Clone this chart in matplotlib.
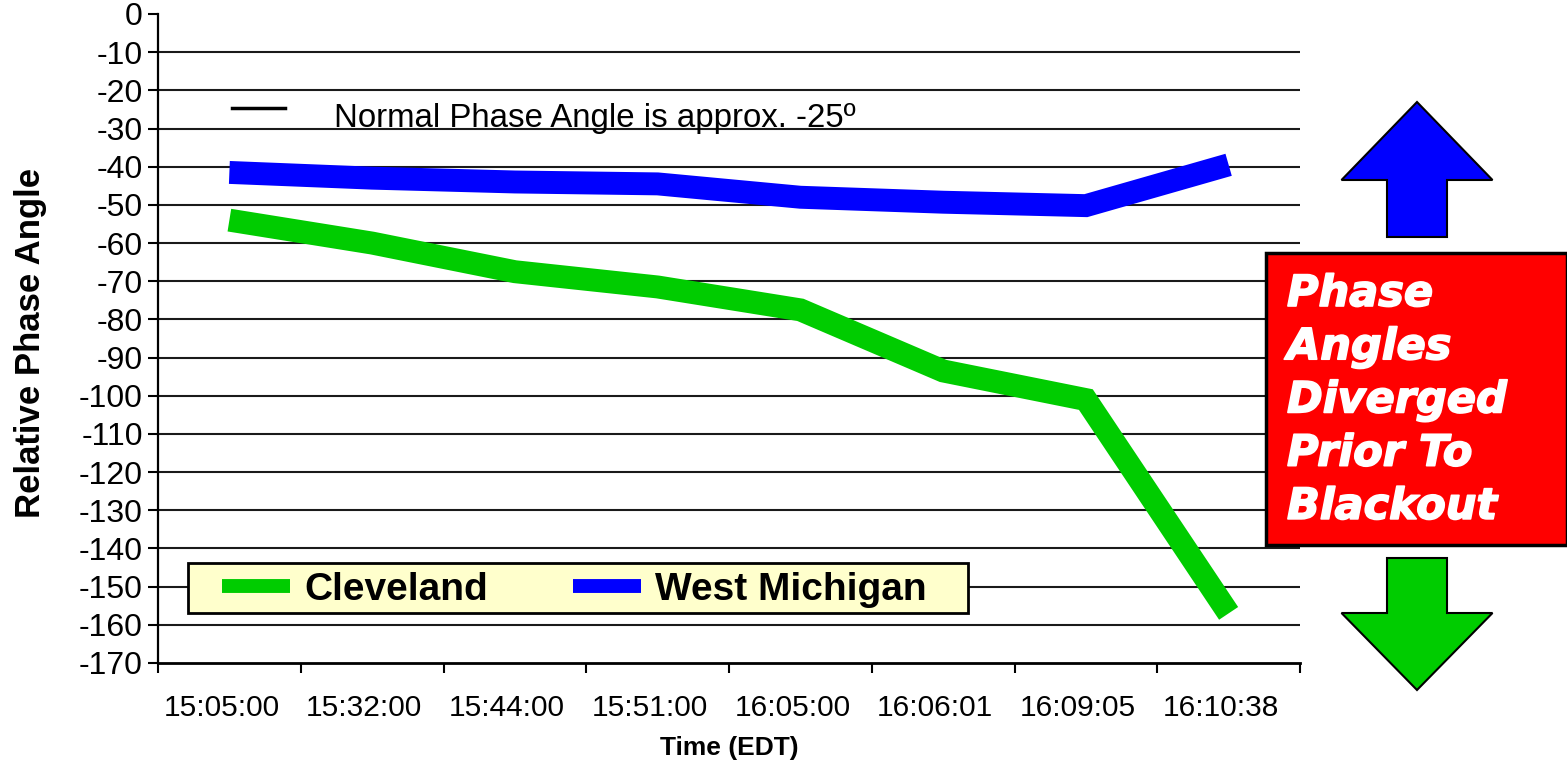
import matplotlib
matplotlib.use("Agg")
import numpy as np
import matplotlib.pyplot as plt
import matplotlib.transforms as mtransforms
import matplotlib.patheffects as pe
from matplotlib.lines import Line2D
from matplotlib.patches import Rectangle, FancyArrow
from matplotlib.legend_handler import HandlerLine2D

plt.rcParams['font.family'] = ['Liberation Sans', 'DejaVu Sans']
plt.rcParams['axes.unicode_minus'] = False

# ---- data ----
times = ["15:05:00", "15:32:00", "15:44:00", "15:51:00",
         "16:05:00", "16:06:01", "16:09:05", "16:10:38"]
cleveland = [-54, -60, -67.5, -71.5, -77.5, -93.5, -101, -157]
west_michigan = [-41.5, -43, -44, -44.5, -48, -49.3, -50.2, -39.5]
yticks = list(range(0, -171, -10))
series_names = ["Cleveland", "West Michigan"]
series_colors = ["#00CC00", "#0000FF"]
note_text = "Normal Phase Angle is approx. -25º"
box_text = ["Phase", "Angles", "Diverged", "Prior To", "Blackout"]


class ShiftedLineHandler(HandlerLine2D):
    def __init__(self, shift, **kw):
        super().__init__(**kw)
        self.shift = shift

    def create_artists(self, legend, orig_handle, xdescent, ydescent,
                       width, height, fontsize, trans):
        arts = super().create_artists(legend, orig_handle, xdescent, ydescent,
                                      width, height, fontsize, trans)
        for a in arts:
            a.set_ydata(np.asarray(a.get_ydata(), dtype=float) + self.shift)
        return arts


W, H = 1567, 763
fig = plt.figure(figsize=(W / 100, H / 100), dpi=100)
ax = fig.add_axes([158 / W, 1 - 663 / H, (1300 - 158) / W, (663 - 14) / H])

x = [i + 0.5 for i in range(len(times))]
ax.set_xlim(0, len(times))
ax.set_ylim(-170, 0)

# gridlines (not at 0 or -170)
for v in yticks:
    if -170 < v < 0:
        ax.axhline(v, color="#1a1a1a", lw=1.5, zorder=1)

ax.plot(x, cleveland, color=series_colors[0], lw=16.5,
        solid_joinstyle="miter", solid_capstyle="butt", zorder=3)
ax.plot(x, west_michigan, color=series_colors[1], lw=16.5,
        solid_joinstyle="miter", solid_capstyle="butt", zorder=3)

ax.spines["top"].set_visible(False)
ax.spines["right"].set_visible(False)
ax.spines["left"].set_linewidth(1.6)
ax.spines["bottom"].set_linewidth(2.0)

ax.set_yticks(yticks)
ax.set_yticklabels([str(v) for v in yticks])
ax.tick_params(axis="y", direction="out", length=7, width=1.5, labelsize=23, pad=4)

ax.set_xticks(range(len(times) + 1))
ax.set_xticklabels([])
ax.set_xticks(x, minor=True)
ax.set_xticklabels(times, minor=True)
ax.tick_params(axis="x", which="major", direction="out", length=7, width=1.5)
ax.tick_params(axis="x", which="minor", length=0, labelsize=21.5, pad=22)
shift = mtransforms.ScaledTranslation(-8 / 100, 0, fig.dpi_scale_trans)
for lbl in ax.get_xticklabels(minor=True):
    lbl.set_transform(lbl.get_transform() + shift)

ax.set_ylabel("Relative Phase Angle", fontsize=25, fontweight="bold")
ax.yaxis.set_label_coords(-0.0972, 0.493)
ax.set_xlabel("Time (EDT)", fontsize=19, fontweight="bold")
ax.xaxis.set_label_coords(0.5, -0.112)

# note legend
note_handle = Line2D([], [], color="black", lw=2.5)
leg_note = ax.legend([note_handle], [note_text], loc="center left",
                     bbox_to_anchor=((232 - 158) / 1142, (663 - 119) / 649),
                     frameon=False, fontsize=23.8, handlelength=1.6,
                     handletextpad=1.5, borderpad=0, borderaxespad=0,
                     handler_map={note_handle: ShiftedLineHandler(6.0)})
ax.add_artist(leg_note)

# series legend with yellow box
ax.add_patch(Rectangle(((188 - 158) / 1142, (663 - 613) / 649),
                       (968 - 188) / 1142, (613 - 563) / 649,
                       transform=ax.transAxes, facecolor="#FFFFCC",
                       edgecolor="black", lw=2, zorder=4))
leg_h = [Line2D([], [], color=c, lw=10, solid_capstyle="butt") for c in series_colors]
leg = ax.legend(leg_h, series_names, loc="center left",
                bbox_to_anchor=((222 - 158) / 1142, (663 - 590) / 649),
                frameon=False, ncol=2, handlelength=1.75, handletextpad=0.36,
                columnspacing=2.18, borderpad=0, borderaxespad=0,
                prop={"size": 28, "weight": "bold"})
leg.set_zorder(5)

# overlay for box and arrows (pixel coordinates)
ov = fig.add_axes([0, 0, 1, 1], zorder=10)
ov.set_xlim(0, W)
ov.set_ylim(H, 0)
ov.axis("off")
ov.patch.set_alpha(0)

ov.add_patch(Rectangle((1266, 253), 301, 292, facecolor="#FF0000",
                       edgecolor="black", lw=2.5))
ov.text(1287, 273, "\n".join(box_text), color="white", fontsize=31,
        fontweight="bold", fontstyle="italic", family="DejaVu Sans",
        ha="left", va="top", linespacing=1.34,
        path_effects=[pe.withStroke(linewidth=1.2, foreground="white")])

ov.add_patch(FancyArrow(1417, 237, 0, -135, width=60, head_width=151,
                        head_length=78, length_includes_head=True,
                        facecolor="#0000FF", edgecolor="black", lw=1.5))
ov.add_patch(FancyArrow(1417, 558, 0, 132, width=60, head_width=151,
                        head_length=77, length_includes_head=True,
                        facecolor="#00CC00", edgecolor="black", lw=1.5))

fig.savefig("out.png", dpi=100)
